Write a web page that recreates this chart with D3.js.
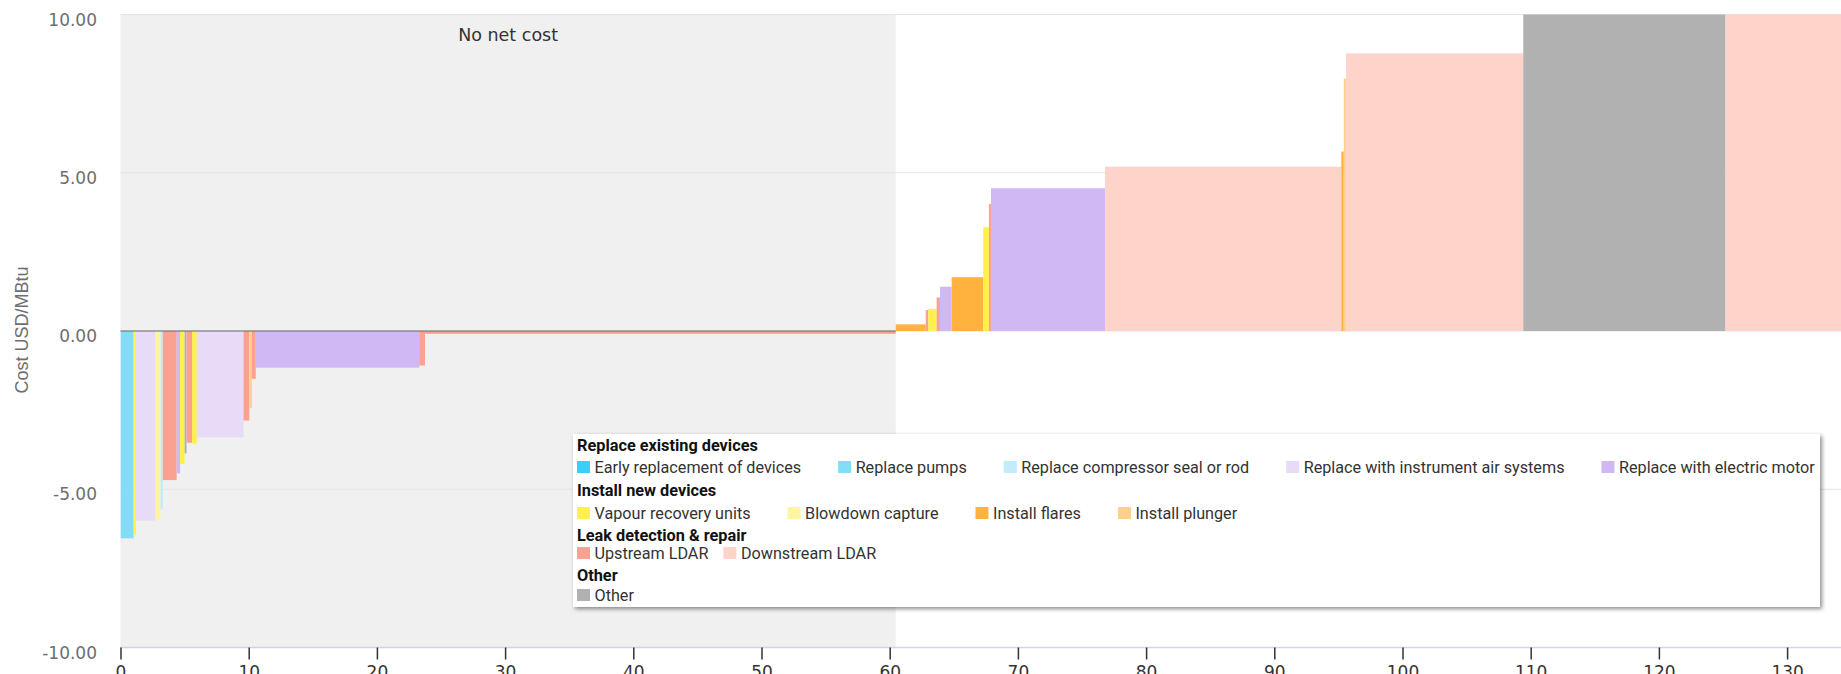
<!DOCTYPE html>
<html>
<head>
<meta charset="utf-8">
<script src="https://cdn.jsdelivr.net/npm/d3@7"></script>
<style>
  html, body { margin: 0; padding: 0; background: #ffffff; overflow: hidden; }
  svg { display: block; }
</style>
</head>
<body>
<svg id="chart" width="1841" height="674"></svg>
<script>
// ---------------- DATA ----------------
const measures = [
  "Replace pumps", "Vapour recovery units", "Replace with instrument air systems", "Blowdown capture",
  "Replace compressor seal or rod", "Upstream LDAR", "Replace with electric motor", "Vapour recovery units",
  "Other", "Upstream LDAR", "Vapour recovery units", "Replace with instrument air systems",
  "Upstream LDAR", "Install plunger", "Upstream LDAR", "Replace with electric motor",
  "Upstream LDAR", "Upstream LDAR", "Install flares", "Upstream LDAR",
  "Vapour recovery units", "Upstream LDAR", "Replace with electric motor", "Install flares",
  "Vapour recovery units", "Upstream LDAR", "Replace with electric motor", "Downstream LDAR",
  "Install flares", "Install plunger", "Downstream LDAR", "Other", "Downstream LDAR"
];
// abatement (bar widths, x units)
const abatement = [
  1.02, 0.17, 1.54, 0.39,
  0.18, 1.08, 0.27, 0.35,
  0.15, 0.43, 0.37, 3.65,
  0.45, 0.20, 0.30, 12.75,
  0.45, 36.72, 2.34, 0.20,
  0.65, 0.26, 0.91, 2.47,
  0.44, 0.16, 8.90, 18.43,
  0.19, 0.18, 13.82, 15.78, 14.8
];
// cost USD/MBtu
const costs = [
  -6.55, -6.45, -5.99, -5.95,
  -5.62, -4.71, -4.50, -4.20,
  -3.87, -3.53, -3.56, -3.36,
  -2.83, -2.44, -1.51, -1.16,
  -1.09, -0.09, 0.21, 0.66,
  0.70, 1.06, 1.40, 1.70,
  3.28, 4.01, 4.51, 5.19,
  5.67, 7.98, 8.77, 16, 20
];

const legendGroups = ["Replace existing devices", "Install new devices", "Leak detection & repair", "Other"];
const categories = [
  "Early replacement of devices", "Replace pumps", "Replace compressor seal or rod",
  "Replace with instrument air systems", "Replace with electric motor",
  "Vapour recovery units", "Blowdown capture", "Install flares", "Install plunger",
  "Upstream LDAR", "Downstream LDAR", "Other"
];
const categoryGroup = [0, 0, 0, 0, 0, 1, 1, 1, 1, 2, 2, 3];

const yTicks = [-10, -5, 0, 5, 10];
const xTicks = [0, 10, 20, 30, 40, 50, 60, 70, 80, 90, 100, 110, 120, 130];
const noNetCostBand = [0, 60.47];
const noNetCostLabel = "No net cost";
const yTitle = "Cost USD/MBtu";

// ---------------- STYLES ----------------
const palette = [
  "#3ccdf8", "#84ddf6", "#c2ecfa",
  "#e7dbf8", "#cfb8f3",
  "#fff04c", "#fff59e", "#ffb23e", "#ffd08b",
  "#fba191", "#fdd3ca", "#b1b1b1"
];
const color = d3.scaleOrdinal().domain(categories).range(palette);

const W = 1841, H = 674;
const plotLeft = 120.5, plotTop = 14.5, plotBottom = 647.5;

const x = d3.scaleLinear().domain([0, 130]).range([plotLeft, plotLeft + 12.82 * 130]);
const y = d3.scaleLinear().domain([-10, 10]).range([plotBottom, plotTop]);

const svg = d3.select("#chart");
const defs = svg.append("defs");
defs.append("clipPath").attr("id", "plotclip")
  .append("rect").attr("x", plotLeft).attr("y", plotTop)
  .attr("width", W - plotLeft).attr("height", plotBottom - plotTop);
const f = defs.append("filter").attr("id", "shadow")
  .attr("x", "-5%").attr("y", "-10%").attr("width", "110%").attr("height", "130%");
f.append("feDropShadow").attr("dx", 2).attr("dy", 2).attr("stdDeviation", 2.2)
  .attr("flood-color", "#000").attr("flood-opacity", 0.45);

// plot band
svg.append("rect")
  .attr("x", x(noNetCostBand[0])).attr("y", plotTop)
  .attr("width", x(noNetCostBand[1]) - x(noNetCostBand[0]))
  .attr("height", plotBottom - plotTop)
  .attr("fill", "#f0f0f0");

// gridlines
svg.append("g").selectAll("line").data(yTicks.filter(d => d !== -10)).join("line")
  .attr("x1", plotLeft).attr("x2", W)
  .attr("y1", d => y(d)).attr("y2", d => y(d))
  .attr("stroke", "#e4e4e4").attr("stroke-width", 1);

// band label
svg.append("text")
  .attr("x", x((noNetCostBand[0] + noNetCostBand[1]) / 2)).attr("y", 41)
  .attr("text-anchor", "middle")
  .attr("font-family", "DejaVu Sans").attr("font-size", 17.5)
  .attr("fill", "#333").text(noNetCostLabel);

// bars
const starts = [0, ...d3.cumsum(abatement)].slice(0, abatement.length);
const bars = measures.map((m, i) => ({ m, x0: starts[i], x1: starts[i] + abatement[i], v: costs[i] }));
svg.append("g").attr("clip-path", "url(#plotclip)")
  .selectAll("rect").data(bars).join("rect")
  .attr("x", d => x(d.x0))
  .attr("width", d => Math.max(1, x(d.x1) - x(d.x0)))
  .attr("y", d => y(Math.max(0, d.v)))
  .attr("height", d => Math.abs(y(d.v) - y(0)))
  .attr("fill", d => color(d.m));

// zero line across the no-net-cost band
svg.append("line")
  .attr("x1", x(noNetCostBand[0])).attr("x2", x(noNetCostBand[1]))
  .attr("y1", y(0)).attr("y2", y(0))
  .attr("stroke", "#666").attr("stroke-width", 1);

// x axis
svg.append("line").attr("x1", plotLeft).attr("x2", W)
  .attr("y1", plotBottom).attr("y2", plotBottom)
  .attr("stroke", "#ccd6eb").attr("stroke-width", 1.5);
const xAxis = svg.append("g").attr("transform", `translate(0,${plotBottom})`)
  .call(d3.axisBottom(x).tickValues(xTicks).tickSize(12).tickPadding(6).tickFormat(d3.format("d")));
xAxis.select(".domain").remove();
xAxis.selectAll(".tick line").attr("stroke", "#333").attr("stroke-width", 1.5);
xAxis.selectAll(".tick text").attr("font-family", "DejaVu Sans").attr("font-size", 17).attr("fill", "#333");

// y axis labels
const yAxis = svg.append("g").attr("transform", `translate(${plotLeft},0)`)
  .call(d3.axisLeft(y).tickValues(yTicks).tickSize(0).tickPadding(23.5).tickFormat(d => d.toFixed(2)));
yAxis.select(".domain").remove();
yAxis.selectAll(".tick text").attr("font-family", "DejaVu Sans").attr("font-size", 17)
  .attr("fill", "#6e6e6e").attr("dy", "0.62em");

// y title
svg.append("text")
  .attr("transform", `translate(28,330) rotate(-90)`)
  .attr("text-anchor", "middle")
  .attr("font-family", "Liberation Sans, Arial").attr("font-size", 18)
  .attr("fill", "#6e6e6e").text(yTitle);

// legend
const lg = svg.append("g");
const legendBox = lg.append("rect")
  .attr("x", 573).attr("y", 434).attr("width", 1247).attr("height", 173)
  .attr("fill", "#fff").attr("filter", "url(#shadow)");
const headerBase = [451, 496, 541, 581];
const itemBase = [473, 519, 559, 601];
const groupItemGap = [37, 37, 15, 37];
const lx = 577, swW = 13, swH = 12, swGap = 17.5;
let maxRight = 0;
legendGroups.forEach((g, gi) => {
  lg.append("text").attr("x", lx).attr("y", headerBase[gi])
    .attr("font-family", "Roboto").attr("font-weight", "bold").attr("font-size", 16.3)
    .attr("fill", "#111").text(g);
  let cx = lx;
  categories.forEach((c, ci) => {
    if (categoryGroup[ci] !== gi) return;
    lg.append("rect").attr("x", cx).attr("y", itemBase[gi] - 12).attr("width", swW).attr("height", swH)
      .attr("fill", color(c));
    const t = lg.append("text").attr("x", cx + swGap).attr("y", itemBase[gi])
      .attr("font-family", "Roboto").attr("font-size", 16.2).attr("fill", "#333").text(c);
    const w = t.node().getComputedTextLength();
    maxRight = Math.max(maxRight, cx + swGap + w);
    cx = cx + swGap + w + groupItemGap[gi];
  });
});
legendBox.attr("width", Math.max(1247, maxRight + 4 - 573));
</script>
</body>
</html>
